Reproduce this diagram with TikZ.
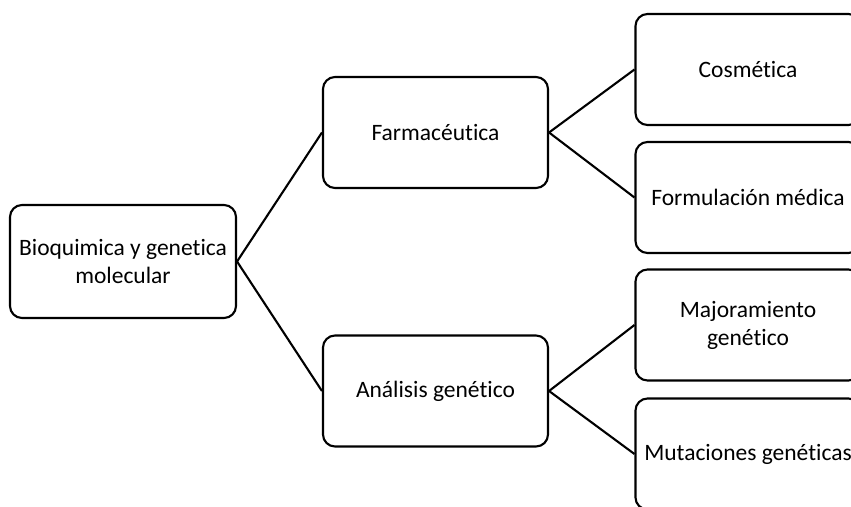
\documentclass[tikz,border=0pt]{standalone}
\usepackage{fontspec}
\setmainfont{Carlito}[Ligatures=CommonOff]
\begin{document}
\begin{tikzpicture}[x=1pt,y=-1pt,
  box/.style={draw, line width=2.1pt, rounded corners=12pt, minimum width=225pt,
              minimum height=111pt, align=center, inner sep=0pt,
              font=\fontsize{23.5}{28}\selectfont},
  link/.style={line width=2.1pt}]
  \useasboundingbox (0,0) rectangle (851,506);
  \fill[white] (0,0) rectangle (851,506);
  \clip (0,0) rectangle (851,506);
  % tree of boxes
  \node[box, minimum width=226pt, minimum height=113pt] (root) at (123,261.5) {Bioquimica y genetica\\molecular};
  \node[box] (farm) at (435.5,132.5) {Farmacéutica};
  \node[box] (anal) at (435.5,391) {Análisis genético};
  \node[box] (cosm) at (748,69.5) {Cosmética};
  \node[box] (form) at (748,197.5) {Formulación médica};
  \node[box] (major) at (748,325) {Majoramiento\\genético};
  \node[box] (mut) at (748,454) {Mutaciones genéticas};
  % connectors
  \draw[link] (root.east) -- (farm.west);
  \draw[link] (root.east) -- (anal.west);
  \draw[link] (farm.east) -- (cosm.west);
  \draw[link] (farm.east) -- (form.west);
  \draw[link] (anal.east) -- (major.west);
  \draw[link] (anal.east) -- (mut.west);
\end{tikzpicture}
\end{document}
